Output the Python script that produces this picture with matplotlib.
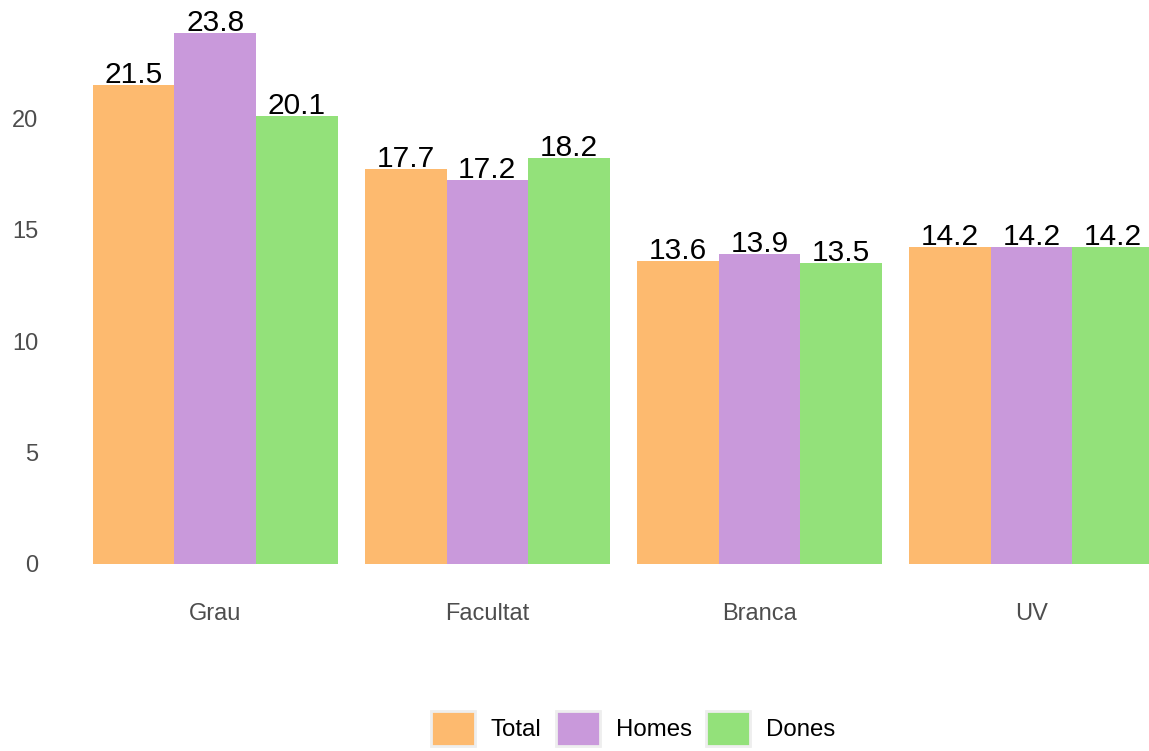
import numpy as np
import matplotlib.pyplot as plt
from matplotlib.patches import Patch

plt.rcParams['font.family'] = ['Liberation Sans', 'DejaVu Sans']

# data
groups = ['Grau', 'Facultat', 'Branca', 'UV']
series = ['Total', 'Homes', 'Dones']
total = [21.5, 17.7, 13.6, 14.2]
homes = [23.8, 17.2, 13.9, 14.2]
dones = [20.1, 18.2, 13.5, 14.2]
colors = ['#FDBA6F', '#C999DB', '#93E17A']

fig = plt.figure(figsize=(11.49, 7.51), dpi=100)
ax = fig.add_axes([52 / 1149, 0.2137, 1 - 52 / 1149, 0.991 - 0.2137])

x = np.arange(1, len(groups) + 1)
w = 0.3
for i, (vals, col) in enumerate(zip([total, homes, dones], colors)):
    pos = x + (i - 1) * w
    ax.bar(pos, vals, width=w, color=col, linewidth=0)
    for p, v in zip(pos, vals):
        ax.text(p, v + 0.09, f'{v:.1f}', ha='center', va='baseline', fontsize=21.5, color='black')

ax.set_xlim(0.4, 1 + (1149 - 215.5) / 272)
ax.set_ylim(-1.19, 24.99)
ax.set_xticks(x)
ax.set_xticklabels(groups)
ax.set_yticks([0, 5, 10, 15, 20])
ax.tick_params(axis='both', length=0, labelsize=17, labelcolor='#4D4D4D')
ax.tick_params(axis='x', pad=9)
ax.tick_params(axis='y', pad=10)
for s in ax.spines.values():
    s.set_visible(False)

handles = [Patch(facecolor=c, edgecolor='#EEEEEE', linewidth=2) for c in colors]
fig.legend(handles, series, loc='center', bbox_to_anchor=(0.551, 0.030), ncol=3,
           frameon=False, fontsize=17.3, handlelength=1.83, handleheight=1.83,
           handletextpad=0.65, columnspacing=0.6)

fig.savefig('out.png', dpi=100)
